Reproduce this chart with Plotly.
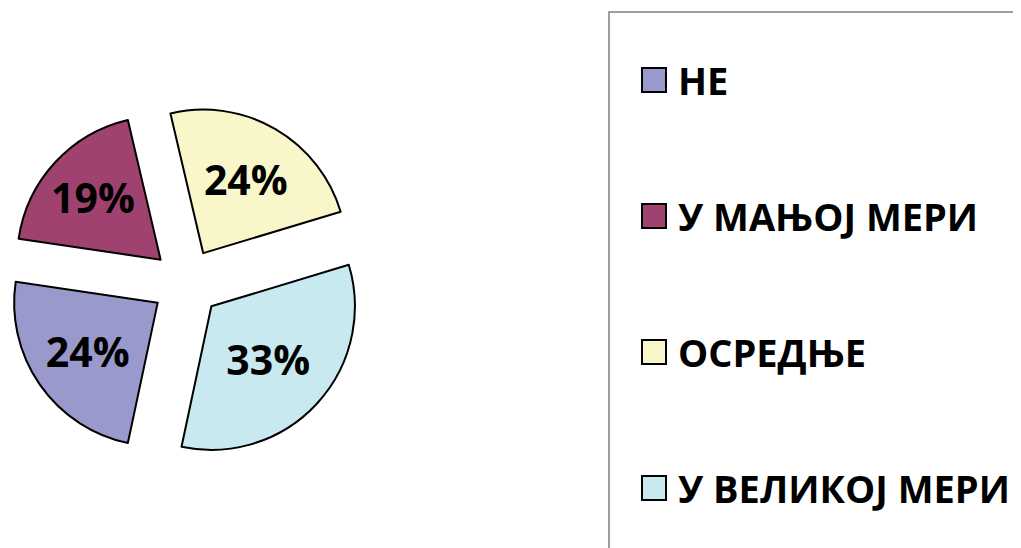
import plotly.graph_objects as go

labels = ["НЕ", "У МАЊОЈ МЕРИ", "ОСРЕДЊЕ", "У ВЕЛИКОЈ МЕРИ"]
values = [24, 19, 24, 33]
colors = ["#9999CC", "#A0426F", "#F9F7C9", "#C9E9F1"]

# the page body keeps its default 8px margin, so the figure is 8px smaller
W, H = 1013, 540
FONT = "Open Sans"

fig = go.Figure()

fig.add_trace(go.Pie(
    labels=labels,
    values=values,
    sort=False,
    direction="clockwise",
    rotation=192,
    pull=[0.24] * len(values),
    marker=dict(colors=colors, line=dict(color="black", width=2)),
    textinfo="percent",
    texttemplate="%{percent:.0%}",
    textposition="inside",
    insidetextorientation="horizontal",
    textfont=dict(family=FONT, size=41, color="black", weight="bold"),
    domain=dict(x=[0, 356 / W], y=[1 - 453 / H, 1 - 97 / H]),
    showlegend=False,
    hoverinfo="label+percent",
))

# legend box, running off the right and bottom edges like the original
fig.add_shape(type="rect", xref="paper", yref="paper",
              x0=601 / W, x1=1.02, y0=-0.02, y1=1 - 4 / H,
              line=dict(color="#7f7f7f", width=1.5), fillcolor="rgba(0,0,0,0)")

# legend entries
y_rows = [72, 208, 344, 480]
for lab, col, yc in zip(labels, colors, y_rows):
    fig.add_shape(type="rect", xref="paper", yref="paper",
                  x0=634 / W, x1=658 / W,
                  y0=1 - (yc + 12) / H, y1=1 - (yc - 12) / H,
                  line=dict(color="black", width=2), fillcolor=col)
    fig.add_annotation(text=lab, xref="paper", yref="paper",
                       x=668 / W, y=1 - yc / H, xanchor="left", yanchor="middle",
                       showarrow=False,
                       font=dict(family=FONT, size=38, color="black", weight="bold"))

fig.update_layout(
    width=W, height=H,
    margin=dict(l=0, r=0, t=0, b=0),
    paper_bgcolor="white",
    plot_bgcolor="white",
)

fig.write_html("out.html")
